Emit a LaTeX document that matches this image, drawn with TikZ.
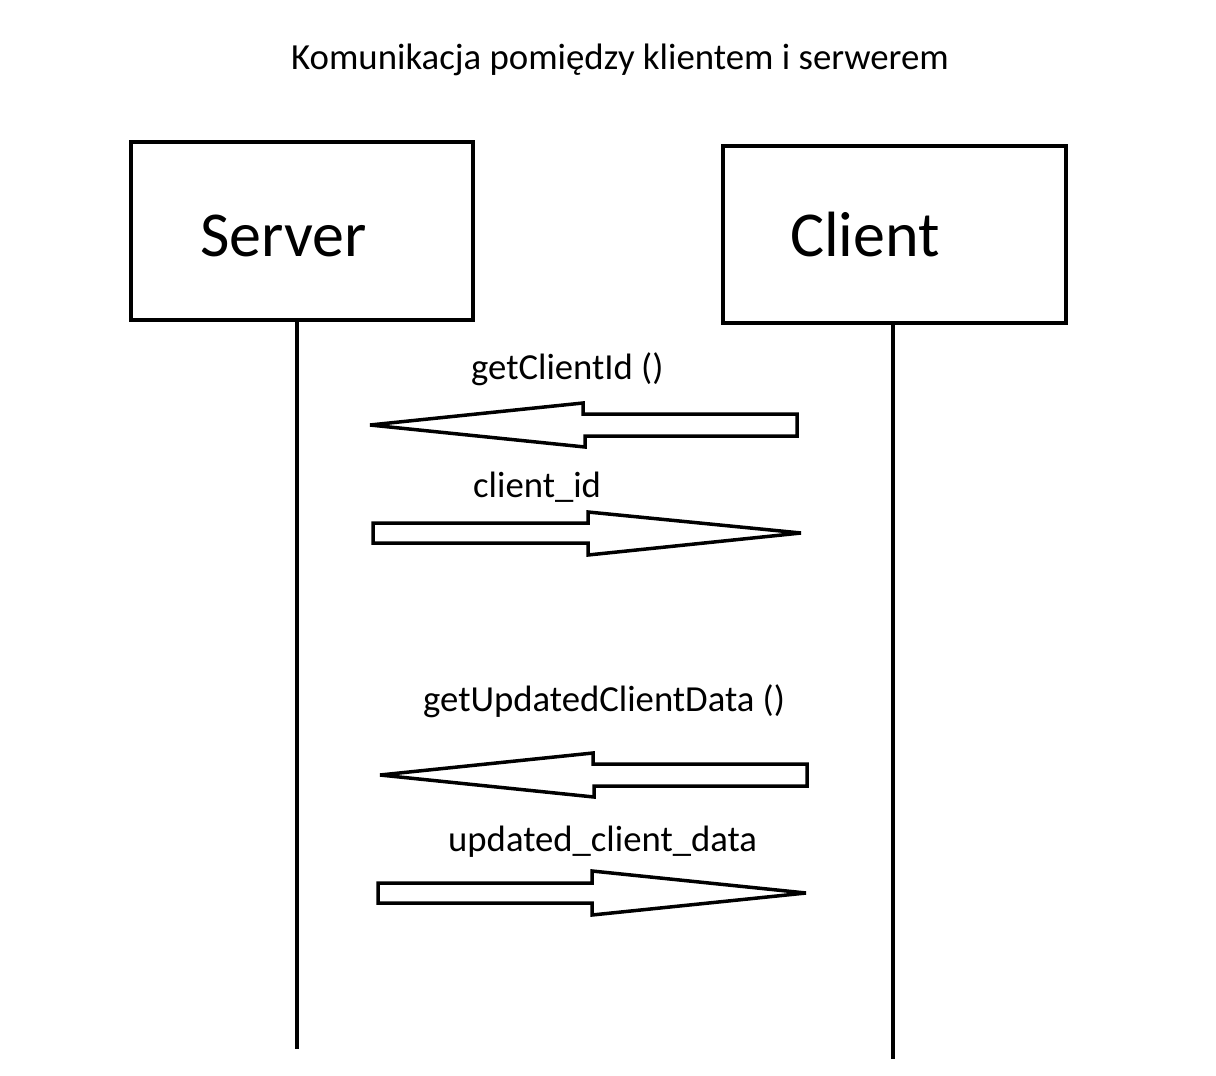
\documentclass[tikz,border=0pt]{standalone}
\usepackage{fontspec}
\setmainfont{Carlito}
\begin{document}
\begin{tikzpicture}[x=1pt,y=-1pt,
  box/.style={draw,line width=4pt},
  life/.style={line width=4pt},
  msgarrow/.style={draw,line width=3.5pt,miter limit=4},
  lbl/.style={anchor=base west,inner sep=0pt,font=\fontsize{36.7}{40}\selectfont},
  big/.style={anchor=base west,inner sep=0pt,font=\fontsize{64}{70}\selectfont}]
\useasboundingbox (0,0) rectangle (1216,1076);
\fill[white] (0,0) rectangle (1216,1076);
\node[anchor=base,inner sep=0pt,font=\fontsize{36.8}{40}\selectfont] (title) at (620,69) {Komunikacja pomiędzy klientem i serwerem};
% boxes
\node[box,minimum width=342pt,minimum height=178pt,inner sep=0pt] (srvbox) at (302,231) {};
\node[box,minimum width=343pt,minimum height=177pt,inner sep=0pt] (clibox) at (894.5,234.5) {};
\node[big] (srv) at (200,256) {Server};
\node[big] (cli) at (790,256) {Client};
% lifelines
\coordinate (sTop) at (297,320);
\coordinate (sEnd) at (297,1049);
\coordinate (cTop) at (893,323);
\coordinate (cEnd) at (893,1059);
\draw[life] (sTop) -- (sEnd);
\draw[life] (cTop) -- (cEnd);
% messages
\node[lbl] (m1) at (471,379) {getClientId ()};
\draw[msgarrow] (797,414) -- (583,414) -- (583,403) -- (370,425) -- (585,447) -- (585,436) -- (797,436) -- cycle;
\node[lbl] (m2) at (473,497) {client\_id};
\draw[msgarrow] (373,523) -- (588,523) -- (588,512) -- (801,533) -- (588,555) -- (588,543) -- (373,543) -- cycle;
\node[lbl] (m3) at (423,711) {getUpdatedClientData ()};
\draw[msgarrow] (807,764) -- (593,764) -- (593,753) -- (380,775) -- (594,797) -- (594,786) -- (807,786) -- cycle;
\node[lbl] (m4) at (448,851) {updated\_client\_data};
\draw[msgarrow] (378,883) -- (592,883) -- (592,871) -- (806,893) -- (592,915) -- (592,903) -- (378,903) -- cycle;
\end{tikzpicture}
\end{document}
